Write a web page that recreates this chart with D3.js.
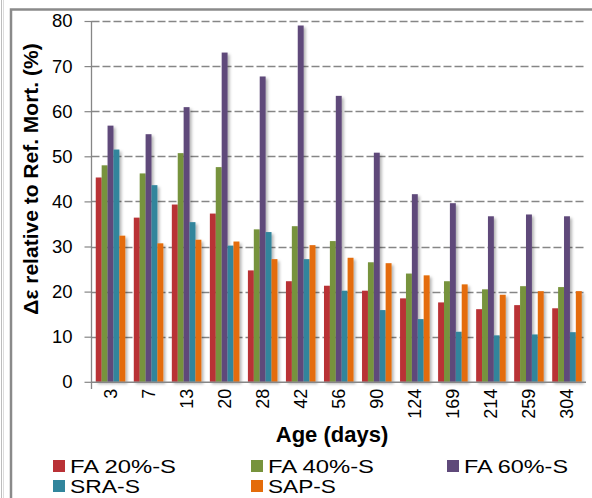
<!DOCTYPE html>
<html>
<head>
<meta charset="utf-8">
<script src="https://cdn.jsdelivr.net/npm/d3@7"></script>
<style>
  html, body { margin: 0; padding: 0; background: #fff; }
  svg { display: block; }
  text { font-family: "Liberation Sans", Arial, sans-serif; }
</style>
</head>
<body>
<svg id="chart" width="592" height="498"></svg>
<script>
// Ages at which strain was measured (days)
const ages = ["3", "7", "13", "20", "28", "42", "56", "90", "124", "169", "214", "259", "304"];

// Series names and colours
const seriesNames = ["FA 20%-S", "FA 40%-S", "FA 60%-S", "SRA-S", "SAP-S"];
const seriesColors = ["#b93136", "#77933c", "#5f497a", "#31859c", "#e46c0a"];

// Δε relative to reference mortar (%)
const fa20 = [45.3, 36.4, 39.3, 37.3, 24.7, 22.3, 21.3, 20.2, 18.5, 17.6, 16.1, 17.0, 16.3];
const fa40 = [48.0, 46.2, 50.7, 47.6, 33.8, 34.5, 31.2, 26.5, 24.0, 22.3, 20.5, 21.2, 21.0];
const fa60 = [56.8, 54.9, 60.9, 73.0, 67.7, 79.0, 63.4, 50.8, 41.6, 39.6, 36.7, 37.1, 36.7];
const sra  = [51.5, 43.6, 35.4, 30.2, 33.2, 27.2, 20.2, 15.9, 13.9, 11.1, 10.3, 10.5, 11.0];
const sap  = [32.4, 30.7, 31.5, 31.1, 27.2, 30.3, 27.5, 26.3, 23.6, 21.6, 19.3, 20.1, 20.1];

const yTicks = [0, 10, 20, 30, 40, 50, 60, 70, 80];

const seriesValues = [fa20, fa40, fa60, sra, sap];
const rows = ages.map((a, i) => ({
  age: a,
  values: seriesValues.map((vals, s) => ({ s, v: vals[i] }))
}));

const svg = d3.select("#chart");

// Outer frame lines
svg.append("line").attr("x1", 1.5).attr("x2", 1.5).attr("y1", 0).attr("y2", 498)
  .attr("stroke", "#bdbdbd").attr("stroke-width", 1);
svg.append("line").attr("x1", 3.5).attr("x2", 3.5).attr("y1", 0).attr("y2", 498)
  .attr("stroke", "#dcdcdc").attr("stroke-width", 1);
svg.append("rect").attr("x", 11).attr("y", 9.5).attr("width", 600).attr("height", 520)
  .attr("fill", "none").attr("stroke", "#8a8a8a").attr("stroke-width", 2.5);

// Scales
const x0 = d3.scaleBand().domain(ages).range([91.5, 586])
  .paddingInner(0.224).paddingOuter(0.112);
const x1 = d3.scaleBand().domain(d3.range(seriesNames.length)).range([0, x0.bandwidth()]);
const y = d3.scaleLinear().domain([0, 80]).range([381.8, 21]);

// Drop shadow for the bars
const defs = svg.append("defs");
const f = defs.append("filter").attr("id", "shadow")
  .attr("x", "-50%").attr("y", "-10%").attr("width", "200%").attr("height", "130%");
f.append("feDropShadow").attr("dx", 2).attr("dy", 2).attr("stdDeviation", 1.6)
  .attr("flood-color", "#000").attr("flood-opacity", 0.3);

// Gridlines
svg.append("g").selectAll("line").data(yTicks.filter(t => t > 0)).join("line")
  .attr("x1", 91.5).attr("x2", 584)
  .attr("y1", d => Math.round(y(d)) + 0.5).attr("y2", d => Math.round(y(d)) + 0.5)
  .attr("stroke", "#868686").attr("stroke-width", 1.3)
  .attr("stroke-dasharray", "8,3");

// Bars
const groups = svg.append("g").attr("filter", "url(#shadow)")
  .selectAll("g").data(rows).join("g")
  .attr("transform", d => `translate(${x0(d.age)},0)`);
groups.selectAll("rect").data(d => d.values).join("rect")
  .attr("x", d => x1(d.s))
  .attr("width", x1.bandwidth())
  .attr("y", d => y(d.v))
  .attr("height", d => y(0) - y(d.v))
  .attr("fill", d => seriesColors[d.s]);

// Y axis
const yAxis = svg.append("g").attr("transform", "translate(91.5,0)")
  .call(d3.axisLeft(y).tickValues(yTicks).tickSize(7).tickPadding(12).tickFormat(d3.format("d")));
yAxis.select(".domain").remove();
yAxis.selectAll(".tick line").attr("stroke", "#868686").attr("stroke-width", 1.2);
yAxis.selectAll(".tick text").attr("font-size", 18.5).attr("fill", "#000")
  .attr("font-family", "'Liberation Sans', Arial, sans-serif");
svg.append("line").attr("x1", 91.5).attr("x2", 91.5).attr("y1", y(80)).attr("y2", 389)
  .attr("stroke", "#868686").attr("stroke-width", 1.3);

// X axis
const xAxis = svg.append("g").attr("transform", `translate(0,${y(0)})`)
  .call(d3.axisBottom(x0).tickSize(0).tickPadding(0));
xAxis.select(".domain").attr("stroke", "#868686").attr("stroke-width", 1.5)
  .attr("d", "M91.5,0.5H586");
xAxis.selectAll(".tick text")
  .attr("font-size", 18).attr("fill", "#000")
  .attr("font-family", "'Liberation Sans', Arial, sans-serif")
  .attr("text-anchor", "end")
  .attr("transform", "translate(0,7) rotate(-90)")
  .attr("x", 0).attr("y", 0).attr("dy", "0.35em");

// Axis titles
svg.append("text")
  .attr("transform", "translate(38,179) rotate(-90)")
  .attr("text-anchor", "middle")
  .attr("font-size", 21).attr("font-weight", "bold").attr("fill", "#000")
  .text("Δε relative to Ref. Mort. (%)");

svg.append("text")
  .attr("x", 332).attr("y", 442)
  .attr("text-anchor", "middle")
  .attr("font-size", 22).attr("font-weight", "bold").attr("fill", "#000")
  .text("Age (days)");

// Legend (wide glyphs, fitted to fixed lengths)
const legendPos = [
  { x: 53, y: 460 }, { x: 251, y: 460 }, { x: 447, y: 460 },
  { x: 53, y: 480 }, { x: 251, y: 480 }
];
const legendWidths = [106, 106, 104, 70, 68];
const legend = svg.append("g").selectAll("g").data(seriesNames).join("g")
  .attr("transform", (d, i) => `translate(${legendPos[i].x},${legendPos[i].y})`);
legend.append("rect").attr("width", 12).attr("height", 12)
  .attr("fill", (d, i) => seriesColors[i]);
legend.append("text")
  .attr("x", 17).attr("y", 13)
  .attr("font-size", 19).attr("fill", "#000")
  .attr("textLength", (d, i) => legendWidths[i])
  .attr("lengthAdjust", "spacingAndGlyphs")
  .text(d => d);
</script>
</body>
</html>
